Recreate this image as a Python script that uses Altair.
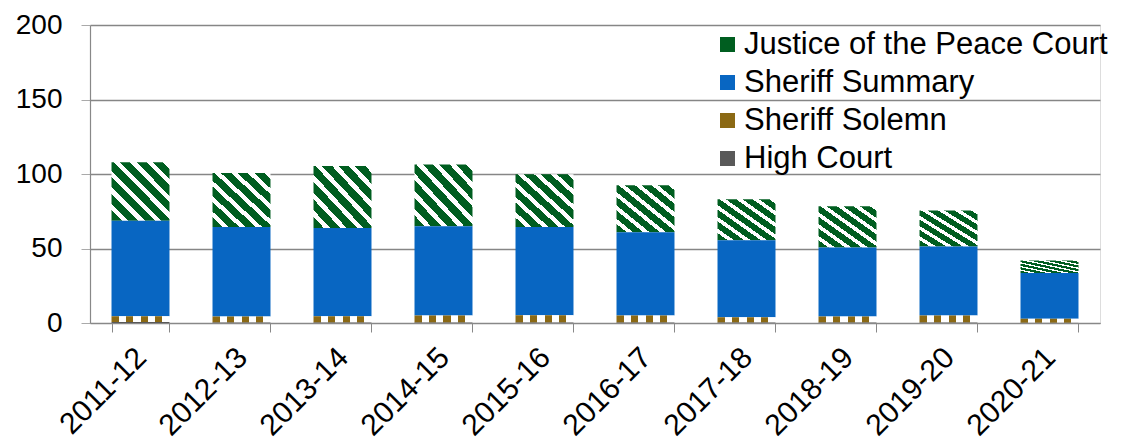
import altair as alt
import pandas as pd

years = ["2011-12", "2012-13", "2013-14", "2014-15", "2015-16",
         "2016-17", "2017-18", "2018-19", "2019-20", "2020-21"]
series_names = ["Justice of the Peace Court", "Sheriff Summary", "Sheriff Solemn", "High Court"]
jp = [39.2, 36.3, 41.6, 41.5, 35.5, 31.6, 27.6, 27.7, 24.1, 8.5]
summary = [64.1, 60.0, 59.2, 59.9, 59.2, 55.9, 51.6, 46.2, 46.4, 30.7]
solemn = [3.9, 4.0, 4.2, 4.6, 4.8, 4.7, 3.6, 4.1, 4.7, 2.6]
high = [0.7, 0.4, 0.4, 0.4, 0.4, 0.3, 0.3, 0.3, 0.3, 0.2]
y_ticks = [0, 50, 100, 150, 200]

GREEN = "#005E20"
BLUE = "#0866C2"
GOLD = "#8B6914"
GREY = "#595959"

values = {series_names[0]: jp, series_names[1]: summary,
          series_names[2]: solemn, series_names[3]: high}
stack_idx = {series_names[3]: 0, series_names[2]: 1, series_names[1]: 2, series_names[0]: 3}
rows = []
for s in series_names:
    for yr, v in zip(years, values[s]):
        rows.append({"year": yr, "series": s, "value": v, "ord": stack_idx[s]})
df = pd.DataFrame(rows)


def stripes(color, n, frac, x1, y1, x2, y2):
    stops = []
    for i in range(n):
        a = i / n
        b = (i + frac) / n
        c = (i + 1) / n
        stops += [{"offset": a, "color": color}, {"offset": b, "color": color},
                  {"offset": b, "color": "#ffffff"}, {"offset": c, "color": "#ffffff"}]
    return {"gradient": "linear", "x1": x1, "y1": y1, "x2": x2, "y2": y2, "stops": stops}


jp_grad = stripes(GREEN, 7, 0.62, 0, 1, 1, 0)
sol_grad = stripes(GOLD, 4, 0.5, 0, 0, 1, 0)

FONT = "Liberation Sans"

color = alt.Color(
    "series:N",
    scale=alt.Scale(domain=series_names, range=[GREEN, BLUE, GOLD, GREY]),
    legend=alt.Legend(
        title=None, orient="none", legendX=622, legendY=4,
        symbolType="square", symbolSize=225, symbolStrokeWidth=0,
        labelFont=FONT, labelFontSize=31, labelColor="#000000",
        labelOffset=1, rowPadding=6, padding=0, labelLimit=600,
    ),
    condition=[
        {"test": "datum.series === 'Justice of the Peace Court'", "value": jp_grad},
        {"test": "datum.series === 'Sheriff Solemn'", "value": sol_grad},
    ],
)

chart = alt.Chart(df).mark_bar(strokeWidth=0).encode(
    x=alt.X("year:N", sort=years,
            scale=alt.Scale(paddingInner=0.426, paddingOuter=0.213),
            axis=alt.Axis(title=None, labelAngle=-45, labelAlign="right", labelBaseline="top",
                          labelFont=FONT, labelFontSize=30, labelColor="#000000",
                          labelOffset=-10, labelPadding=10, tickBand="extent",
                          tickSize=9, tickColor="#888888", domainColor="#888888",
                          domainWidth=1.2, grid=False)),
    y=alt.Y("value:Q", stack="zero",
            scale=alt.Scale(domain=[0, 200], nice=False),
            axis=alt.Axis(title=None, values=y_ticks, labelFont=FONT, labelFontSize=28,
                          labelColor="#000000", labelPadding=19, tickSize=9,
                          tickColor="#aaaaaa", domainColor="#888888", domainWidth=1.2,
                          gridColor="#868686", gridWidth=1.4)),
    color=color,
    order=alt.Order("ord:Q", sort="ascending"),
).properties(
    width=1010, height=298,
    autosize=alt.AutoSizeParams(type="none"),
    padding={"left": 82, "top": 17, "right": 14, "bottom": 122},
).configure_view(stroke=None).configure(background="#ffffff")

chart.save("out.html", embed_options={"renderer": "svg", "actions": False})
